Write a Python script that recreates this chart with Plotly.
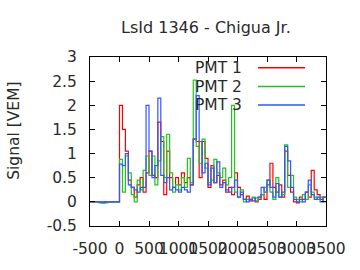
import plotly.graph_objects as go

# bin edges (ns) and signals per 50 ns bin
bin_width = 50
t_start = -500

pre_pmt1 = [0, 0, 0, 0, 0, 0, 0, 0, 0, 0]
pre_pmt2 = [0, 0, 0, -0.02, -0.02, -0.02, 0, 0, 0, 0]
pre_pmt3 = [0, 0, 0, 0, -0.02, 0, 0, 0, 0, 0]

pmt1 = [2.0, 1.5, 1.05, 0.45, 0.3, 0.1, 0.35, 0.5, 0.2, 0.6,
        1.05, 0.55, 0.5, 1.65, 1.25, 0.15, 1.05, 0.5, 0.3, 0.5,
        0.35, 0.6, 0.4, 0.5, 0.35, 1.3, 1.25, 0.5, 1.25, 0.9,
        0.3, 0.75, 0.4, 0.55, 0.35, 0.45, 0.2, 0.3, 0.15, 0.6,
        0.3, 0.15, 0.05, 0.12, 0.02, 0.08, 0.0, 0.05, 0.15, 0.05,
        0.35, 0.8, 0.3, 0.2, 0.35, 0.1, 1.05, 0.55, 0.2, 0.0,
        -0.02, 0.1, 0.05, 0.2, 0.1, 0.65, 0.25, 0.15, 0.05, 0.1]
pmt2 = [0.88, 0.2, 0.95, 0.6, 0.15, 0.0, 0.45, 0.25, 0.65, 0.95,
        0.55, 0.95, 0.35, 0.85, 1.35, 0.5, 1.4, 0.6, 0.2, 0.35,
        0.25, 0.5, 0.3, 0.9, 0.4, 2.52, 1.15, 0.8, 1.3, 0.7,
        0.4, 0.45, 0.88, 0.6, 0.5, 0.7, 0.35, 0.5, 2.0, 0.2,
        0.1, 0.25, 0.0, 0.05, 0.05, 0.1, 0.02, 0.1, 0.15, 0.3,
        0.45, 0.2, 0.05, 0.5, 0.1, 0.15, 1.18, 0.3, 0.55, 0.1,
        0.05, 0.0, 0.15, 0.05, 0.35, 0.2, 0.1, 0.05, 0.1, 0.0]
pmt3 = [0.78, 0.75, 1.0, 0.35, 0.3, 0.25, 0.2, 0.3, 0.3, 2.0,
        1.05, 0.5, 0.75, 2.15, 0.55, 0.4, 0.5, 0.25, 0.3, 0.25,
        0.2, 0.3, 0.25, 0.2, 0.35, 1.3, 2.2, 1.25, 0.6, 0.8,
        0.35, 0.7, 0.4, 0.83, 0.3, 0.4, 0.25, 0.2, 0.3, 0.45,
        0.1, 0.2, 0.05, 0.0, 0.05, 0.02, 0.08, 0.1, 0.3, 0.2,
        0.45, 0.3, 0.1, 0.38, 0.1, 0.2, 1.15, 0.85, 0.3, 0.05,
        0.0, 0.05, 0.0, 0.2, 0.45, 0.15, 0.05, 0.1, 0.0, 0.1]

names = ["PMT 1", "PMT 2", "PMT 3"]
colors = ["#ff0000", "#1fc41f", "#3355ff"]

x_ticks = [-500, 0, 500, 1000, 1500, 2000, 2500, 3000, 3500]
x_ticktext = ["-500", "0", "500", "1000", "1500", "2000", "2500", "3000", "3500"]
y_ticks = [-0.5, 0, 0.5, 1, 1.5, 2, 2.5, 3]
y_ticktext = ["-0.5", "0", "0.5", "1", "1.5", "2", "2.5", "3"]

FONT = "DejaVu Sans"
TXT = "#2a2a2a"
W, H = 360, 270
L, R, T, B = 90, 34, 57, 39

fig = go.Figure()
series = [pre_pmt1 + pmt1, pre_pmt2 + pmt2, pre_pmt3 + pmt3]
for name, col, vals in zip(names, colors, series):
    edges = [t_start + i * bin_width for i in range(len(vals) + 1)]
    yv = vals + [vals[-1]]
    fig.add_trace(go.Scatter(x=edges, y=yv, mode="lines", line_shape="hv",
                             line=dict(color=col, width=1.2), name=name,
                             showlegend=False, hoverinfo="skip"))

# manual gnuplot-style legend (text then line sample)
plot_w = W - L - R
plot_h = H - T - B
leg_rows_px = [68, 87.5, 106.5]
for name, col, yp in zip(names, colors, leg_rows_px):
    yn = (H - B - yp) / plot_h
    fig.add_annotation(x=(244 - L) / plot_w, y=yn, xref="paper", yref="paper",
                       text=name, showarrow=False, xanchor="right", yanchor="middle",
                       font=dict(family=FONT, size=15.5, color=TXT))
    fig.add_shape(type="line", xref="paper", yref="paper",
                  x0=(258 - L) / plot_w, x1=(305 - L) / plot_w, y0=yn, y1=yn,
                  line=dict(color=col, width=1.5))

fig.add_annotation(x=(206 - L) / plot_w, y=(H - B - 27) / plot_h, xref="paper", yref="paper",
                   text="LsId 1346 - Chigua Jr.", showarrow=False,
                   xanchor="center", yanchor="middle",
                   font=dict(family=FONT, size=16, color=TXT))
fig.add_annotation(x=(14 - L) / plot_w, y=(H - B - 133) / plot_h, xref="paper", yref="paper",
                   text="Signal [VEM]", showarrow=False, textangle=-90,
                   xanchor="center", yanchor="middle",
                   font=dict(family=FONT, size=15.5, color=TXT))

axis_common = dict(showline=True, linecolor="black", linewidth=1, mirror="ticks",
                   ticks="inside", ticklen=5, tickcolor="black", showgrid=False,
                   zeroline=False, tickfont=dict(family=FONT, size=15.5, color=TXT))
fig.update_xaxes(range=[-500, 3500], tickvals=x_ticks, ticktext=x_ticktext,
                 tickangle=0, ticklabelstandoff=8, **axis_common)
fig.update_yaxes(range=[-0.5, 3], tickvals=y_ticks, ticktext=y_ticktext,
                 ticklabelstandoff=9, **axis_common)

fig.update_layout(width=W, height=H, margin=dict(l=L, r=R, t=T, b=B),
                  paper_bgcolor="white", plot_bgcolor="white", showlegend=False,
                  font=dict(family=FONT, size=15, color=TXT))

fig.write_html("out.html")
